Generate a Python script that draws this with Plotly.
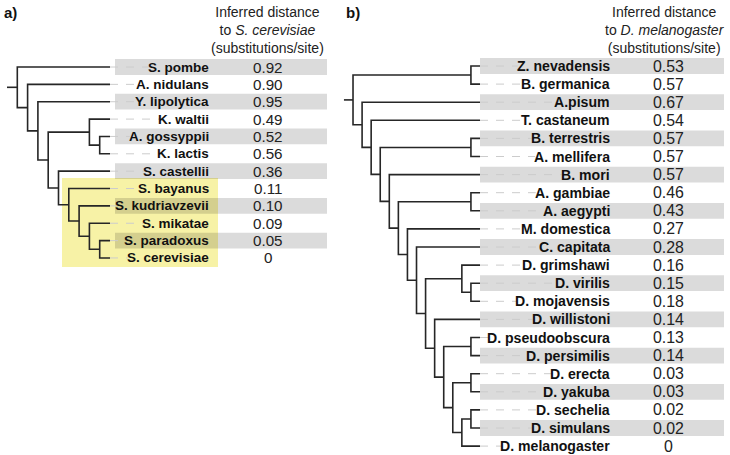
import plotly.graph_objects as go

# ---------------- data ----------------
yeast_species = ["S. pombe", "A. nidulans", "Y. lipolytica", "K. waltii", "A. gossyppii",
                 "K. lactis", "S. castellii", "S. bayanus", "S. kudriavzevii", "S. mikatae",
                 "S. paradoxus", "S. cerevisiae"]
yeast_distance = [0.92, 0.90, 0.95, 0.49, 0.52, 0.56, 0.36, 0.11, 0.10, 0.09, 0.05, 0]
# topology: nested lists of leaf indices (rows)
yeast_tree = [0, [1, [2, [[3, [4, 5]], [6, [7, [8, [9, [10, 11]]]]]]]]]
yeast_highlight_rows = [7, 11]
yeast_reference = "S. cerevisiae"

insect_species = ["Z. nevadensis", "B. germanica", "A.pisum", "T. castaneum", "B. terrestris",
                  "A. mellifera", "B. mori", "A. gambiae", "A. aegypti", "M. domestica",
                  "C. capitata", "D. grimshawi", "D. virilis", "D. mojavensis", "D. willistoni",
                  "D. pseudoobscura", "D. persimilis", "D. erecta", "D. yakuba", "D. sechelia",
                  "D. simulans", "D. melanogaster"]
insect_distance = [0.53, 0.57, 0.67, 0.54, 0.57, 0.57, 0.57, 0.46, 0.43, 0.27, 0.28,
                   0.16, 0.15, 0.18, 0.14, 0.13, 0.14, 0.03, 0.03, 0.02, 0.02, 0]
insect_tree = [[0, 1], [2, [3, [[4, 5], [6, [[7, 8], [9, [10, [[11, [12, 13]],
               [14, [[15, 16], [[17, 18], [[19, 20], 21]]]]]]]]]]]]]
insect_reference = "D. melanogaster"

# ---------------- styles / geometry ----------------
FONT = "Liberation Sans, Arial, Helvetica, sans-serif"
TREE_COLOR = "#262626"
LEADER_COLOR = "#cccccc"
BAND_COLOR = "rgba(0,0,0,0.14)"
YELLOW = "rgb(247,242,166)"

panels = [
    dict(species=yeast_species, dist=yeast_distance, tree=yeast_tree, ref=yeast_reference,
         tag="a)", tag_x=2, tip_x=110, step=10.3, row0=67, dy=17.36,
         label_right=211, value_x=268, band_x=(115, 327), header_x=267,
         label_size=13.5, value_size=15.2, highlight=yeast_highlight_rows),
    dict(species=insect_species, dist=insect_distance, tree=insect_tree, ref=insect_reference,
         tag="b)", tag_x=344, tip_x=480, step=9.07, row0=66, dy=18.1,
         label_right=612, value_x=668, band_x=(480, 724), header_x=665,
         label_size=14.1, value_size=15.9, highlight=None),
]

# Helvetica-Bold advance widths (per 1000 em)
BOLD_W = {' ': 278, '.': 278, 'A': 722, 'B': 722, 'C': 722, 'D': 722, 'K': 722, 'M': 833,
          'S': 667, 'T': 611, 'Y': 667, 'Z': 611, 'a': 556, 'b': 611, 'c': 556, 'd': 611,
          'e': 556, 'f': 333, 'g': 611, 'h': 611, 'i': 278, 'j': 278, 'k': 556, 'l': 278,
          'm': 889, 'n': 611, 'o': 611, 'p': 611, 'q': 611, 'r': 389, 's': 556, 't': 333,
          'u': 611, 'v': 556, 'w': 778, 'x': 556, 'y': 556, 'z': 500}


def text_width(s, size):
    return sum(BOLD_W.get(c, 600) for c in s) * size / 1000.0


def layout_tree(node, p, segs):
    if isinstance(node, int):
        return p["tip_x"], p["row0"] + node * p["dy"], 0
    kids = [layout_tree(c, p, segs) for c in node]
    h = 1 + max(k[2] for k in kids)
    x = p["tip_x"] - h * p["step"]
    y = (kids[0][1] + kids[-1][1]) / 2.0
    segs.append(([kids[0][0], x, x, kids[-1][0]], [kids[0][1], kids[0][1], kids[-1][1], kids[-1][1]]))
    for k in kids[1:-1]:
        segs.append(([x, k[0]], [k[1], k[1]]))
    return x, y, h


fig = go.Figure()
shapes = []
annotations = []

for p in panels:
    n = len(p["species"])
    rows_y = [p["row0"] + i * p["dy"] for i in range(n)]

    # highlight box
    if p["highlight"]:
        r0, r1 = p["highlight"]
        shapes.append(dict(type="rect", xref="x", yref="y", layer="below",
                           x0=62, x1=p["label_right"] + 7,
                           y0=rows_y[r0] - 10.5, y1=rows_y[r1] + 9,
                           fillcolor=YELLOW, line=dict(width=0)))
    # alternating bands
    for i in range(0, n, 2):
        shapes.append(dict(type="rect", xref="x", yref="y", layer="below",
                           x0=p["band_x"][0], x1=p["band_x"][1],
                           y0=rows_y[i] - 7.9, y1=rows_y[i] + 7.9,
                           fillcolor=BAND_COLOR, line=dict(width=0)))

    # tree
    segs = []
    rx, ry, _ = layout_tree(p["tree"], p, segs)
    segs.append(([rx - p["step"], rx], [ry, ry]))
    xs, ys = [], []
    for sx, sy in segs:
        xs += sx + [None]
        ys += sy + [None]
    fig.add_trace(go.Scatter(x=xs, y=ys, mode="lines", hoverinfo="skip", showlegend=False,
                             line=dict(color=TREE_COLOR, width=1.6)))

    # leader dashes
    lx, ly = [], []
    for i, name in enumerate(p["species"]):
        end = p["label_right"] - text_width(name, p["label_size"]) - 1
        if end > p["tip_x"] + 1:
            lx += [p["tip_x"], end, None]
            ly += [rows_y[i], rows_y[i], None]
    fig.add_trace(go.Scatter(x=lx, y=ly, mode="lines", hoverinfo="skip", showlegend=False,
                             line=dict(color=LEADER_COLOR, width=1, dash="8px,8px")))

    # labels and values
    for i, (name, d) in enumerate(zip(p["species"], p["dist"])):
        annotations.append(dict(x=p["label_right"], y=rows_y[i], xref="x", yref="y",
                                text="<b>%s</b>" % name, showarrow=False,
                                xanchor="right", yanchor="middle",
                                font=dict(family=FONT, size=p["label_size"], color="#111111")))
        annotations.append(dict(x=p["value_x"], y=rows_y[i], xref="x", yref="y",
                                text=("%.2f" % d) if d else "0", showarrow=False,
                                xanchor="center", yanchor="middle",
                                font=dict(family=FONT, size=p["value_size"], color="#222222")))

    # header
    annotations.append(dict(x=p["header_x"], y=30, xref="x", yref="y",
                            text="Inferred distance<br>to <i>%s</i><br>(substitutions/site)" % p["ref"],
                            showarrow=False, xanchor="center", yanchor="middle", align="center",
                            font=dict(family=FONT, size=14, color="#222222")))
    annotations.append(dict(x=p["tag_x"], y=12, xref="x", yref="y", text="<b>%s</b>" % p["tag"],
                            showarrow=False, xanchor="left", yanchor="middle",
                            font=dict(family=FONT, size=15, color="#111111")))

fig.update_layout(
    width=730, height=455, margin=dict(l=0, r=0, t=0, b=0),
    paper_bgcolor="white", plot_bgcolor="white",
    xaxis=dict(range=[0, 730], visible=False, fixedrange=True),
    yaxis=dict(range=[455, 0], visible=False, fixedrange=True),
    shapes=shapes, annotations=annotations, showlegend=False,
)

# remove the browser's default 8px page margin so the figure fills the window
fig.write_html("out.html", config={"displayModeBar": False},
               post_script="document.body.style.margin='0px';")
